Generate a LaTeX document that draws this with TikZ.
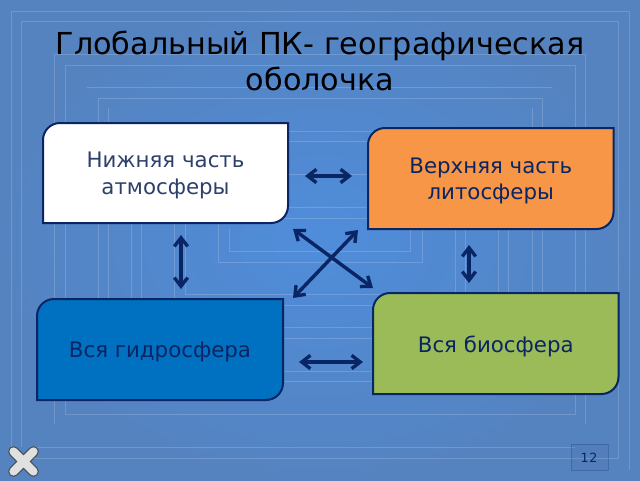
\documentclass[tikz,border=0pt]{standalone}
\usepackage{fontspec}
\setmainfont{DejaVu Sans}
\usetikzlibrary{arrows.meta,calc}
\definecolor{navy}{HTML}{0A2563}
\definecolor{bgin}{HTML}{4F8DDB}
\definecolor{bgout}{HTML}{5583C0}
\definecolor{orangebox}{HTML}{F79646}
\definecolor{waterbox}{HTML}{0070C0}
\definecolor{greenbox}{HTML}{9BBB59}
\tikzset{
  bgline/.style={draw=white,draw opacity=0.17,line width=0.75pt},
  boxline/.style={draw=navy,line width=1.5pt},
  boxtext/.style={align=center,font=\fontsize{16}{19.7}\selectfont,inner sep=0pt},
  link/.style={draw=navy,line width=2.6pt,{Straight Barb[length=6.5pt,width=10pt,line width=2.5pt]}-{Straight Barb[length=6.5pt,width=10pt,line width=2.5pt]}},
  titletext/.style={align=center,font=\fontsize{22.7}{26.6}\selectfont,inner sep=0pt,text=black}
}
\newcommand{\diagbox}[7]{%
  \path[boxline,fill=#6] (#2+17,#3) -- (#4,#3) -- (#4,#5-17) .. controls (#4,#5-7.6) and (#4-7.6,#5) .. (#4-17,#5) -- (#2,#5) -- (#2,#3+17) .. controls (#2,#3+7.6) and (#2+7.6,#3) .. (#2+17,#3) -- cycle;
  \node[boxtext,#7] (#1) at ({(#2+#4)/2},{(#3+#5)/2+2.5}) {\csname boxlabel#1\endcsname};
}
\newcommand{\boxlabela}{Нижняя часть\\атмосферы}
\newcommand{\boxlabelb}{Верхняя часть\\литосферы}
\newcommand{\boxlabelc}{Вся гидросфера}
\newcommand{\boxlabeld}{Вся биосфера}
\begin{document}
\begin{tikzpicture}[x=0.75pt,y=-0.75pt]
\useasboundingbox (0,0) rectangle (640,480);
\shade[inner color=bgin,outer color=bgout] (0,0) rectangle (640,480);
% background frames
\draw[bgline] (11,450) -- (11,11) -- (629,11) -- (629,470);
\draw[bgline] (21,447) -- (21,21) -- (618,21) -- (618,458) -- (30,458);
\draw[bgline] (30,447) -- (575,447);
\draw[bgline] (54,424) -- (54,54) -- (585,54) -- (585,424);
\draw[bgline] (65,65) rectangle (575,414);
\draw[bgline] (87,87) -- (552,87);
\draw[bgline] (98,98) rectangle (542,381);
\draw[bgline] (108,371) -- (108,108) (532,108) -- (532,371) -- (108,371);
\draw[bgline] (131,349) -- (131,131) -- (508,131) -- (508,349);
\draw[bgline] (141,141) rectangle (498,338);
\draw[bgline] (152,327) -- (487,327);
\draw[bgline] (174,174) rectangle (465,305);
\draw[bgline] (185,185) -- (185,294) -- (455,294) -- (455,185);
\draw[bgline] (207,207) -- (432,207);
\draw[bgline] (218,218) rectangle (422,262);
\draw[bgline] (229,229) -- (229,251) -- (410,251) -- (410,229);
% title
\node[titletext] (title) at (320,61) {Глобальный ПК- географическая\\оболочка};
% boxes
\diagbox{a}{43}{123}{288}{223}{white}{text=navy!70!gray}
\diagbox{b}{368}{128}{613.5}{229}{orangebox}{text=navy}
\diagbox{c}{37}{299}{283}{400}{waterbox}{text=navy}
\diagbox{d}{373}{293}{618.5}{394}{greenbox}{text=navy}
% connectors
\coordinate (ab1) at (305,176); \coordinate (ab2) at (352,176);
\coordinate (ac1) at (181,235); \coordinate (ac2) at (181,289);
\coordinate (bd1) at (469,245); \coordinate (bd2) at (469,283);
\coordinate (cd1) at (299,362); \coordinate (cd2) at (363,362);
\coordinate (ad1) at (293,229); \coordinate (ad2) at (373,288);
\coordinate (bc1) at (358,230); \coordinate (bc2) at (293,298);
\draw[link] (ab1) -- (ab2);
\draw[link] (ac1) -- (ac2);
\draw[link] (bd1) -- (bd2);
\draw[link] (cd1) -- (cd2);
\draw[link] (ad1) -- (ad2);
\draw[link] (bc1) -- (bc2);
% close icon
\draw[draw=black!70,line width=8pt,line cap=round] (13.5,451.5) -- (33.5,471.5) (33.5,451.5) -- (13.5,471.5);
\draw[draw=black!12,line width=6.2pt,line cap=round] (13.5,451.5) -- (33.5,471.5) (33.5,451.5) -- (13.5,471.5);
% slide number
\draw[draw=navy,draw opacity=0.25,fill=navy,fill opacity=0.04,line width=0.75pt] (571,444) rectangle (608,470);
\node[inner sep=0pt,text=navy,font=\fontsize{9.5}{11}\selectfont] (num) at (589,458) {1\kern0.6pt 2};
\end{tikzpicture}
\end{document}
